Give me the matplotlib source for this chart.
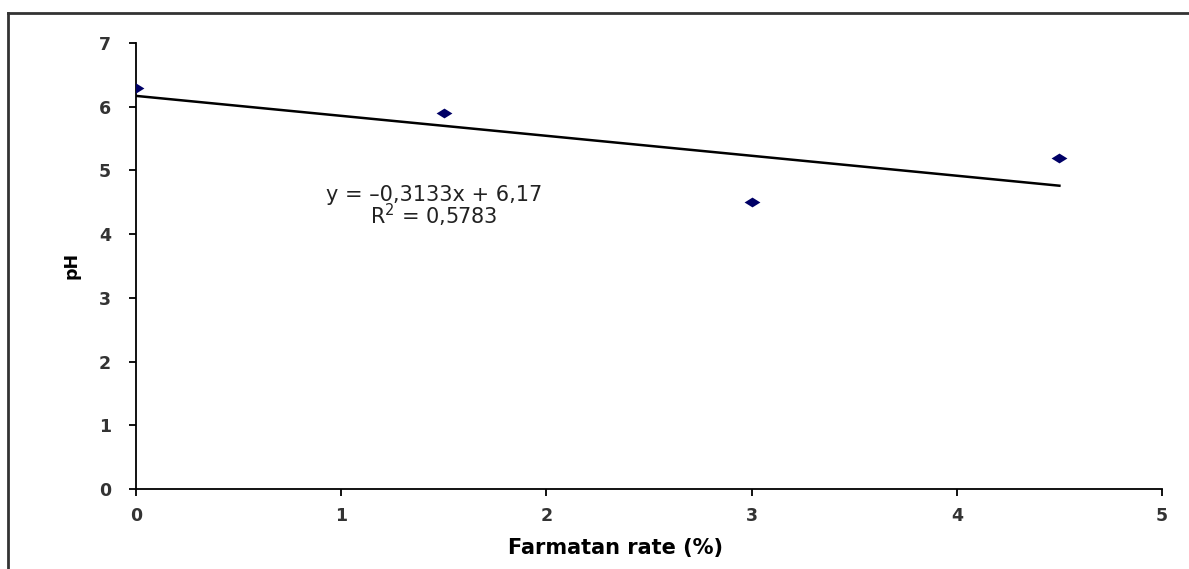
import numpy as np
import matplotlib.pyplot as plt
from matplotlib.lines import Line2D
from matplotlib.path import Path

# data
rate = [0, 1.5, 3, 4.5]
ph = [6.3, 5.9, 4.5, 5.2]
slope = -0.3133
intercept = 6.17
r2 = 0.5783

plt.rcParams['font.family'] = ['DejaVu Sans']

fig = plt.figure(figsize=(11.89, 5.69), dpi=100)
ax = fig.add_axes([136 / 1189, 1 - 489 / 569, (1162 - 136) / 1189, (489 - 43) / 569])

# the original is stretched sideways, so the diamonds are wider than tall
diamond = Path([(-1, 0), (0, 0.62), (1, 0), (0, -0.62), (-1, 0)],
               [Path.MOVETO, Path.LINETO, Path.LINETO, Path.LINETO, Path.CLOSEPOLY])
ax.scatter(rate, ph, marker=diamond, s=130, color='#000066', zorder=3, linewidths=0)

xt = np.array([min(rate), max(rate)])
ax.plot(xt, slope * xt + intercept, color='black', linewidth=1.8)

ax.text(1.452, 4.42, f'y = \u2013{abs(slope):.4f}x + {intercept:.2f}'.replace('.', ',')
        + '\n' + f'R$^2$ = {r2:.4f}'.replace('.', ','),
        ha='center', va='center', fontsize=15, color='#222222', linespacing=0.85)

ax.set_xlim(0, 5)
ax.set_ylim(0, 7)
ax.set_xticks(range(0, 6))
ax.set_yticks(range(0, 8))
for s in ['top', 'right']:
    ax.spines[s].set_visible(False)
for s in ['left', 'bottom']:
    ax.spines[s].set_linewidth(1.3)
ax.tick_params(direction='out', length=5, width=1.3, labelsize=12.5, labelcolor='#333333')
ax.tick_params(axis='y', pad=13)
ax.tick_params(axis='x', pad=8)
for lab in ax.get_xticklabels() + ax.get_yticklabels():
    lab.set_fontweight('bold')

ax.set_xlabel('Farmatan rate (%)', fontsize=15, fontweight='bold')
ax.xaxis.set_label_coords((615 - 136) / 1026, -(548 - 489) / 446)
ax.xaxis.label.set_va('center')
ax.set_ylabel('pH', fontsize=12.5, fontweight='bold')
ax.yaxis.set_label_coords(-(136 - 72) / 1026, (489 - 265) / 446)
ax.yaxis.label.set_va('center')

# outer frame (only top and left edges visible in the picture)
fig.add_artist(Line2D([8 / 1189, 1], [1 - 13 / 569, 1 - 13 / 569], transform=fig.transFigure, color='#333333', linewidth=2))
fig.add_artist(Line2D([8 / 1189, 8 / 1189], [0, 1 - 13 / 569], transform=fig.transFigure, color='#333333', linewidth=2))

fig.savefig('out.png', dpi=100)
